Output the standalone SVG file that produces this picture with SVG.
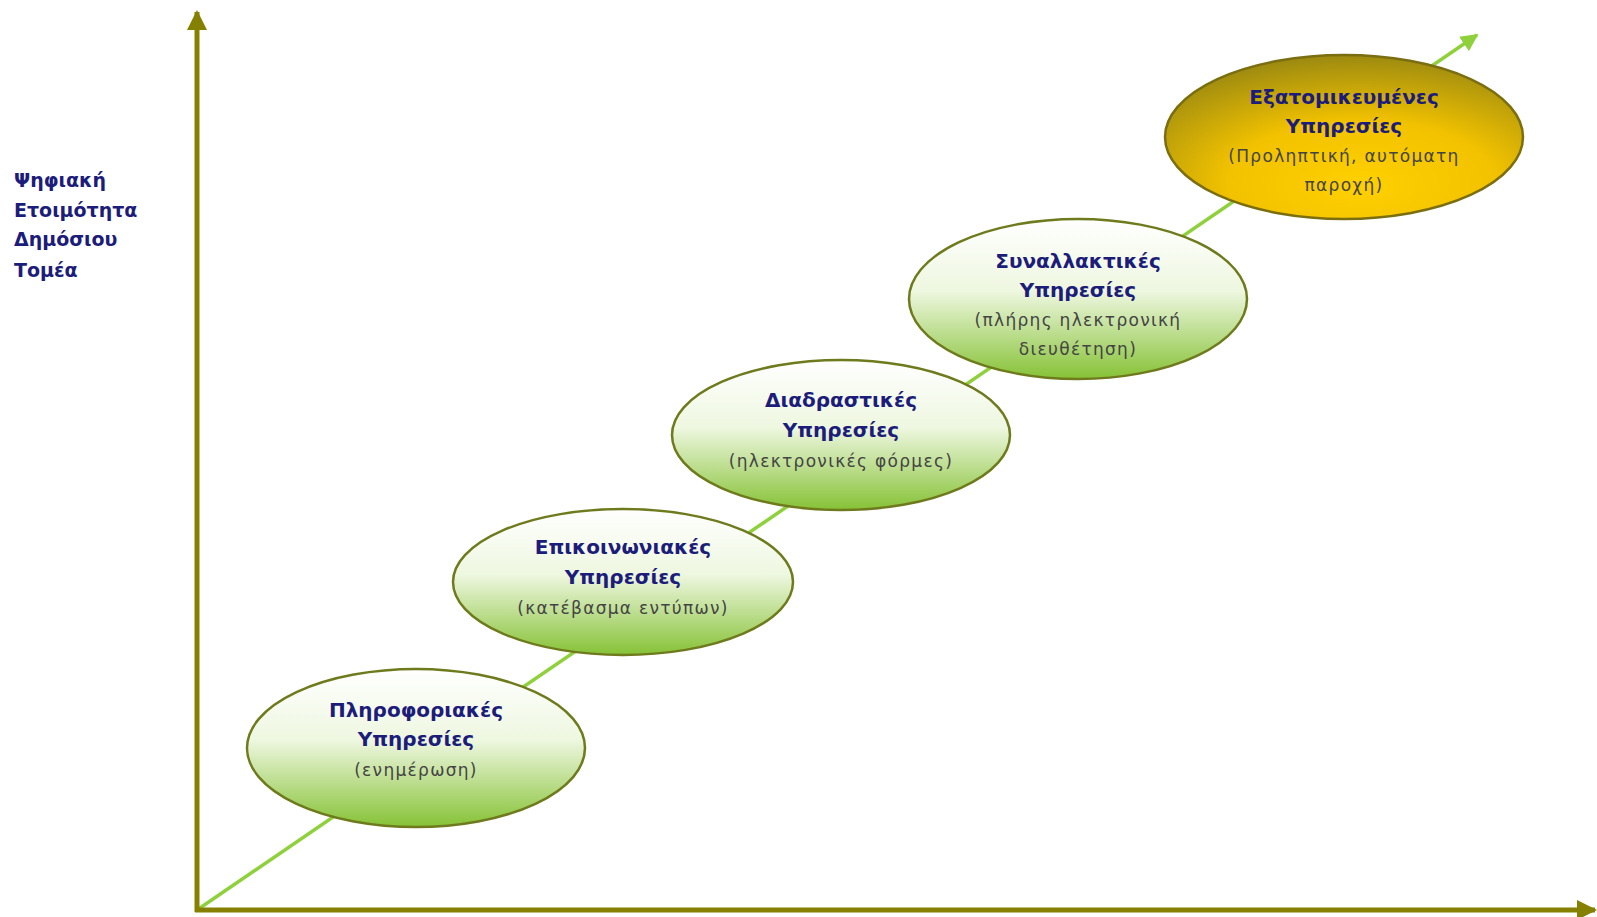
<svg xmlns="http://www.w3.org/2000/svg" width="1597" height="917" viewBox="0 0 1597 917">
<defs>
<style>
.t{font-family:"DejaVu Sans","Liberation Sans",sans-serif;font-weight:bold;font-size:20px;fill:#1c1c7a;text-anchor:middle}
.s{font-family:"DejaVu Sans","Liberation Sans",sans-serif;font-size:17px;fill:#444444;text-anchor:middle;letter-spacing:1.3px}
.lbl{font-family:"DejaVu Sans","Liberation Sans",sans-serif;font-weight:bold;font-size:19px;fill:#1c1c7a}
.g{fill:url(#gg);stroke:#6e7a1c;stroke-width:2.5}
.y{fill:url(#gy);stroke:#7a6e10;stroke-width:2.5}
.axis{stroke:#868000;stroke-width:5;fill:none}
</style>
<linearGradient id="gg" x1="0" y1="0" x2="0" y2="1">
<stop offset="0" stop-color="#ffffff"/>
<stop offset="0.45" stop-color="#eef7e0"/>
<stop offset="1" stop-color="#86c236"/>
</linearGradient>
<radialGradient id="gy" cx="0.55" cy="0.75" r="0.75" fx="0.55" fy="0.8">
<stop offset="0" stop-color="#ffd000"/>
<stop offset="0.5" stop-color="#f2c200"/>
<stop offset="1" stop-color="#9c8a10"/>
</radialGradient>
<marker id="ah" viewBox="0 0 10 10" refX="9" refY="5" markerWidth="4" markerHeight="4" orient="auto" markerUnits="strokeWidth">
<path d="M0,0 L10,5 L0,10 z" fill="#868000"/>
</marker>
<marker id="ahg" viewBox="0 0 10 10" refX="9" refY="5" markerWidth="5" markerHeight="5" orient="auto" markerUnits="strokeWidth">
<path d="M0,0 L10,5 L0,10 z" fill="#8fd13c"/>
</marker>
</defs>
<rect width="1597" height="917" fill="#ffffff"/>
<g id="connectors">
<line x1="197" y1="910" x2="1477" y2="35" stroke="#8fd13c" stroke-width="3.5" marker-end="url(#ahg)"/>
<line class="axis" x1="197" y1="912" x2="197" y2="12" marker-end="url(#ah)"/>
<line class="axis" x1="195" y1="910" x2="1595" y2="910" marker-end="url(#ah)"/>
</g>
<g id="axis-label">
<text class="lbl" x="14" y="187">Ψηφιακή</text>
<text class="lbl" x="14" y="217">Ετοιμότητα</text>
<text class="lbl" x="14" y="246">Δημόσιου</text>
<text class="lbl" x="14" y="277">Τομέα</text>
</g>
<g id="n1">
<ellipse class="g" cx="416" cy="748" rx="169" ry="79"/>
<text class="t" x="416" y="717">Πληροφοριακές</text>
<text class="t" x="416" y="746">Υπηρεσίες</text>
<text class="s" x="416" y="776">(ενημέρωση)</text>
</g>
<g id="n2">
<ellipse class="g" cx="623" cy="582" rx="170" ry="73"/>
<text class="t" x="623" y="554">Επικοινωνιακές</text>
<text class="t" x="623" y="584">Υπηρεσίες</text>
<text class="s" x="623" y="614">(κατέβασμα εντύπων)</text>
</g>
<g id="n3">
<ellipse class="g" cx="841" cy="435" rx="169" ry="75"/>
<text class="t" x="841" y="407">Διαδραστικές</text>
<text class="t" x="841" y="437">Υπηρεσίες</text>
<text class="s" x="841" y="467">(ηλεκτρονικές φόρμες)</text>
</g>
<g id="n4">
<ellipse class="g" cx="1078" cy="299" rx="169" ry="80"/>
<text class="t" x="1078" y="268">Συναλλακτικές</text>
<text class="t" x="1078" y="297">Υπηρεσίες</text>
<text class="s" x="1078" y="326">(πλήρης ηλεκτρονική</text>
<text class="s" x="1078" y="355">διευθέτηση)</text>
</g>
<g id="n5">
<ellipse class="y" cx="1344" cy="137" rx="179" ry="82"/>
<text class="t" x="1344" y="104">Εξατομικευμένες</text>
<text class="t" x="1344" y="133">Υπηρεσίες</text>
<text class="s" x="1344" y="162">(Προληπτική, αυτόματη</text>
<text class="s" x="1344" y="191">παροχή)</text>
</g>
</svg>
